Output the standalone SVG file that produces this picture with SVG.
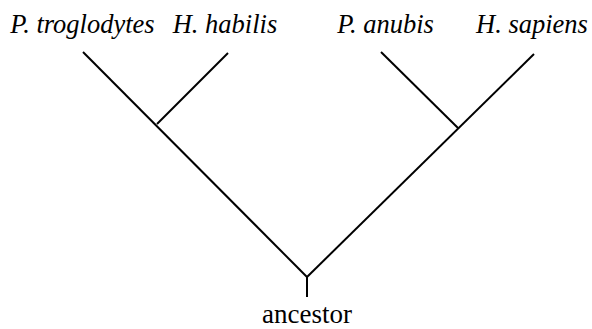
<svg xmlns="http://www.w3.org/2000/svg" width="592" height="329" viewBox="0 0 592 329">
<style>
.lbl{font-family:"Liberation Serif","Times New Roman",serif;font-size:26.5px;font-style:italic;fill:#000}
.anc{font-family:"Liberation Serif","Times New Roman",serif;font-size:27px;fill:#000}
.edge{stroke:#000;stroke-width:2;fill:none}
</style>
<rect width="592" height="329" fill="#fff"/>
<g id="connectors">
<line class="edge" x1="83" y1="52" x2="307" y2="277"/>
<line class="edge" x1="228" y1="53" x2="157" y2="124"/>
<line class="edge" x1="534" y1="54" x2="307" y2="277"/>
<line class="edge" x1="381" y1="52" x2="458" y2="128"/>
<line class="edge" x1="307" y1="277" x2="307" y2="297"/>
</g>
<g id="p_troglodytes"><text class="lbl" x="82.5" y="33" text-anchor="middle">P. troglodytes</text></g>
<g id="h_habilis"><text class="lbl" x="225" y="33" text-anchor="middle">H. habilis</text></g>
<g id="p_anubis"><text class="lbl" x="385.5" y="33" text-anchor="middle">P. anubis</text></g>
<g id="h_sapiens"><text class="lbl" x="532" y="33" text-anchor="middle">H. sapiens</text></g>
<g id="ancestor"><text class="anc" x="307" y="323" text-anchor="middle">ancestor</text></g>
</svg>
